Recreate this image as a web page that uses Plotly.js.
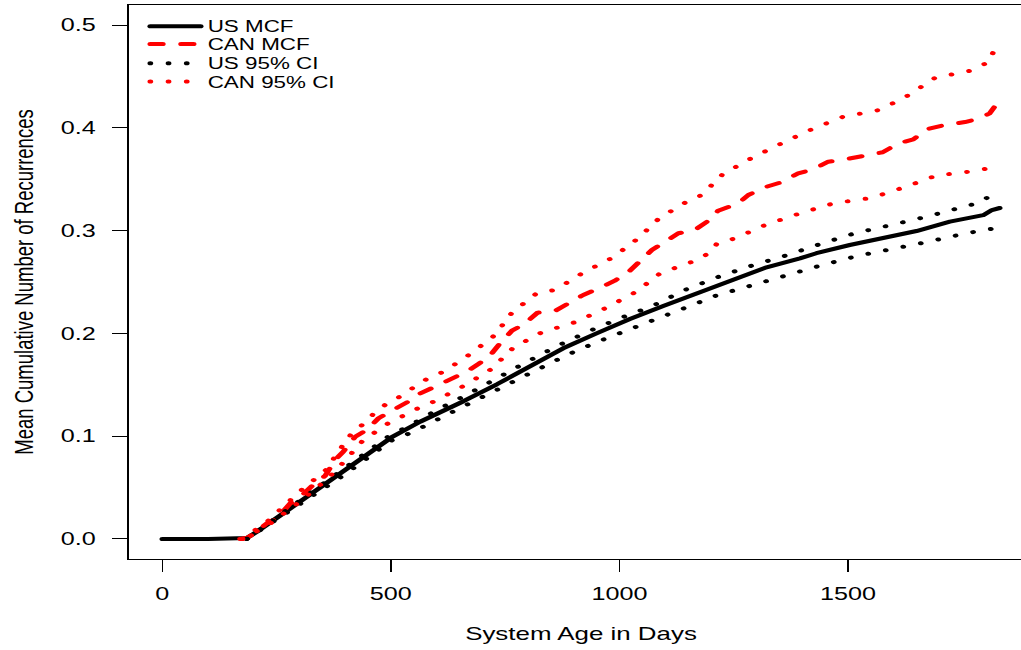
<!DOCTYPE html>
<html>
<head>
<meta charset="utf-8">
<script src="https://cdn.plot.ly/plotly-3.0.1.min.js"></script>
<style>
html,body{margin:0;padding:0;overflow:hidden;background:#fff;}
#wrap{width:1021px;height:650px;overflow:hidden;position:relative;}
#plot{width:738px;height:650px;transform:scaleX(1.4);transform-origin:0 0;}
.js-line{stroke-linecap:round;stroke-linejoin:round;}
</style>
</head>
<body>
<div id="wrap"><div id="plot"></div></div>
<script>
// ---- data ----
var usMcfDays = [0, 100, 185, 207, 265, 324, 385, 440, 502, 564, 626, 659, 732, 805, 877, 950, 1023, 1096, 1169, 1249, 1322, 1395, 1431, 1504, 1577, 1650, 1723, 1759, 1796, 1815, 1827, 1832];
var usMcf     = [0, 0, 0.001, 0.007, 0.025, 0.0435, 0.0616, 0.080, 0.099, 0.114, 0.127, 0.134, 0.1505, 0.1676, 0.1855, 0.200, 0.214, 0.2267, 0.239, 0.252, 0.2643, 0.273, 0.278, 0.286, 0.293, 0.2996, 0.3087, 0.312, 0.315, 0.320, 0.3217, 0.322];

var canMcfDays = [170, 185, 200, 229, 251, 280, 302, 334, 356, 378, 396, 422, 447, 473, 498, 538, 557, 602, 630, 666, 694, 721, 739, 765, 792, 821, 859, 896, 921, 959, 990, 1023, 1045, 1071, 1096, 1129, 1165, 1197, 1216, 1260, 1282, 1322, 1351, 1391, 1424, 1457, 1493, 1541, 1576, 1610, 1643, 1672, 1708, 1756, 1788, 1810, 1820, 1830];
var canMcf     = [0, 0.001, 0.005, 0.0153, 0.020, 0.0347, 0.041, 0.0542, 0.0613, 0.0768, 0.085, 0.0995, 0.106, 0.1174, 0.1238, 0.1336, 0.140, 0.1498, 0.1553, 0.1628, 0.1709, 0.1806, 0.1904, 0.2027, 0.2091, 0.2202, 0.2218, 0.2308, 0.2374, 0.2445, 0.2513, 0.261, 0.2698, 0.2811, 0.2882, 0.2974, 0.3006, 0.3103, 0.3194, 0.3265, 0.3346, 0.3427, 0.3466, 0.3557, 0.3596, 0.367, 0.3693, 0.3735, 0.3762, 0.3849, 0.3888, 0.3985, 0.4024, 0.4056, 0.4092, 0.414, 0.42, 0.422];

var usUpperDays = [185, 300, 400, 500, 535, 598, 665, 730, 796, 861, 931, 1003, 1074, 1143, 1214, 1289, 1366, 1440, 1515, 1594, 1672, 1748, 1786, 1818, 1830];
var usUpper     = [0, 0.037, 0.069, 0.1015, 0.1087, 0.1248, 0.140, 0.1563, 0.1719, 0.187, 0.2017, 0.215, 0.227, 0.2422, 0.2546, 0.2659, 0.276, 0.287, 0.2974, 0.3054, 0.3135, 0.3226, 0.327, 0.3356, 0.337];

var usLowerDays = [185, 300, 400, 500, 550, 614, 681, 748, 815, 885, 955, 1028, 1101, 1173, 1209, 1285, 1363, 1439, 1517, 1597, 1676, 1754, 1794, 1830];
var usLower     = [0, 0.033, 0.063, 0.0955, 0.1044, 0.119, 0.134, 0.1495, 0.1644, 0.179, 0.1923, 0.2046, 0.2169, 0.2299, 0.2364, 0.2464, 0.2558, 0.2659, 0.275, 0.2818, 0.2892, 0.297, 0.3006, 0.303];

var canUpperDays = [175, 230, 300, 358, 393, 413, 439, 462, 489, 522, 549, 581, 616, 673, 727, 765, 819, 859, 921, 985, 1040, 1087, 1146, 1180, 1226, 1288, 1355, 1424, 1488, 1571, 1633, 1691, 1772, 1807, 1820, 1830];
var canUpper     = [0, 0.017, 0.046, 0.0671, 0.0898, 0.1018, 0.1116, 0.1216, 0.131, 0.139, 0.1472, 0.1563, 0.1628, 0.1797, 0.1981, 0.2202, 0.239, 0.2422, 0.2591, 0.2737, 0.2921, 0.312, 0.3278, 0.3346, 0.3548, 0.3703, 0.3849, 0.3992, 0.4105, 0.4176, 0.4319, 0.4488, 0.4559, 0.464, 0.4754, 0.478];

var canLowerDays = [175, 230, 300, 320, 360, 391, 410, 438, 466, 496, 528, 562, 597, 659, 719, 768, 830, 904, 969, 1036, 1089, 1160, 1192, 1214, 1253, 1321, 1395, 1468, 1550, 1623, 1692, 1777, 1818, 1830];
var canLower     = [0, 0.013, 0.036, 0.043, 0.058, 0.072, 0.082, 0.0953, 0.104, 0.1131, 0.12, 0.1277, 0.1342, 0.1488, 0.165, 0.1861, 0.201, 0.211, 0.2244, 0.2403, 0.2584, 0.2698, 0.277, 0.2875, 0.2925, 0.3058, 0.3168, 0.3265, 0.3317, 0.3421, 0.3534, 0.358, 0.3616, 0.363];

var seriesNames = ["US MCF", "CAN MCF", "US 95% CI", "CAN 95% CI"];
var xTickVals = [0, 500, 1000, 1500];
var yTickVals = [0, 0.1, 0.2, 0.3, 0.4, 0.5];
var xTitle = "System Age in Days";
var yTitle = "Mean Cumulative Number of Recurrences";

// ---- styling ----
var FONT = '"Liberation Sans", Arial, Helvetica, sans-serif';
var DOT = '0.1px,12.9px';
var DASH = '9px,13px';

var traces = [
  {x: usMcfDays, y: usMcf, name: seriesNames[0], mode: 'lines',
   line: {color: '#000000', width: 4}, legend: 'legend'},
  {x: canMcfDays, y: canMcf, name: seriesNames[1], mode: 'lines',
   line: {color: '#ff0000', width: 4, dash: DASH}, legend: 'legend2'},
  {x: usUpperDays, y: usUpper, name: seriesNames[2], mode: 'lines', legendgroup: 'usci',
   line: {color: '#000000', width: 4, dash: DOT}, legend: 'legend3'},
  {x: usLowerDays, y: usLower, name: seriesNames[2], mode: 'lines', legendgroup: 'usci', showlegend: false,
   line: {color: '#000000', width: 4, dash: DOT}, legend: 'legend3'},
  {x: canUpperDays, y: canUpper, name: seriesNames[3], mode: 'lines', legendgroup: 'canci',
   line: {color: '#ff0000', width: 4, dash: DOT}, legend: 'legend4'},
  {x: canLowerDays, y: canLower, name: seriesNames[3], mode: 'lines', legendgroup: 'canci', showlegend: false,
   line: {color: '#ff0000', width: 4, dash: DOT}, legend: 'legend4'}
];

function leg(y) {
  return {x: 0.016, y: y, xanchor: 'left', yanchor: 'middle', bgcolor: 'rgba(0,0,0,0)',
          borderwidth: 0, font: {family: FONT, size: 16, color: '#000'}, itemwidth: 36};
}

var layout = {
  width: 738, height: 650,
  margin: {l: 92, r: 0, t: 5, b: 91, pad: 0},
  paper_bgcolor: '#ffffff', plot_bgcolor: '#ffffff',
  font: {family: FONT, color: '#000'},
  showlegend: true,
  legend: leg(0.9615),
  legend2: leg(0.9295),
  legend3: leg(0.8948),
  legend4: leg(0.8616),
  xaxis: {
    range: [-73.3, 1905.3], tickvals: xTickVals, ticktext: xTickVals.map(String),
    showgrid: false, zeroline: false, showline: true, mirror: true,
    linecolor: '#000', linewidth: 1, ticks: 'outside', ticklen: 12, tickwidth: 1, tickcolor: '#000',
    tickfont: {family: FONT, size: 18, color: '#000'}, ticklabelstandoff: 6,
    title: {text: xTitle, font: {family: FONT, size: 18.5, color: '#000'}, standoff: 24}
  },
  yaxis: {
    range: [-0.0195, 0.5195], tickvals: yTickVals, ticktext: yTickVals.map(function(v){return v.toFixed(1);}),
    showgrid: false, zeroline: false, showline: true, mirror: true,
    linecolor: '#000', linewidth: 1, ticks: 'outside', ticklen: 11, tickwidth: 1, tickcolor: '#000',
    tickfont: {family: FONT, size: 18, color: '#000'}, ticklabelstandoff: 8,
    title: {text: yTitle, font: {family: FONT, size: 18.5, color: '#000'}, standoff: 14}
  }
};

Plotly.newPlot('plot', traces, layout, {staticPlot: true, displayModeBar: false});
</script>
</body>
</html>
